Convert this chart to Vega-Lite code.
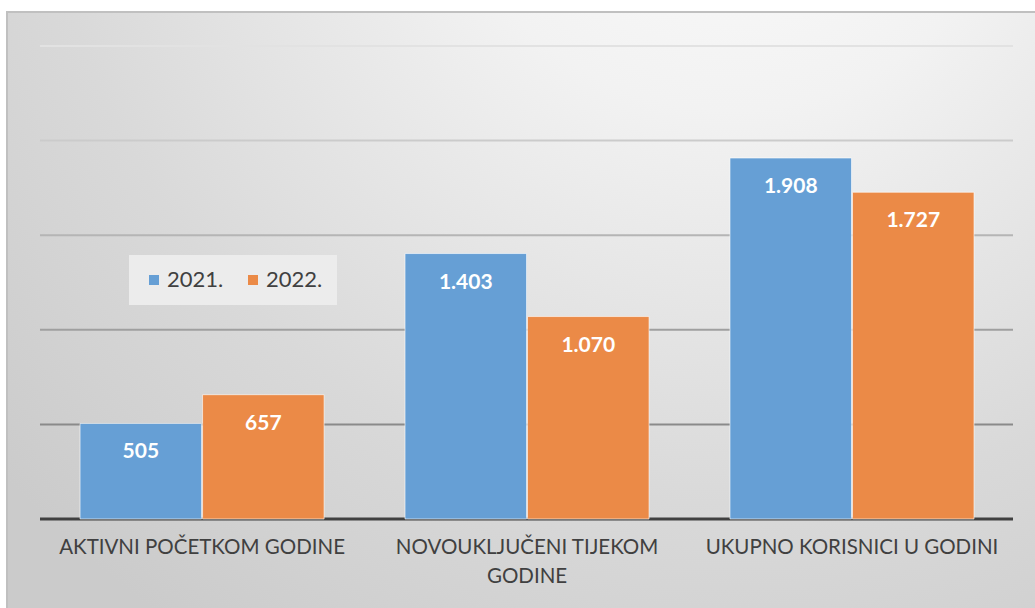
{
  "$schema": "https://vega.github.io/schema/vega-lite/v6.json",
  "width": 1035,
  "height": 600,
  "autosize": {"type": "none"},
  "padding": {"left": 7, "top": 12, "right": 0, "bottom": 0},
  "background": "#ffffff",
  "config": {
    "view": {"stroke": null},
    "locale": {"number": {"decimal": ",", "thousands": ".", "grouping": [3], "currency": ["", " €"]}}
  },
  "resolve": {"scale": {"x": "independent", "color": "independent"}, "axis": {"x": "independent"}},
  "layer": [
    {
      "data": {"values": [{"bg": 1}]},
      "mark": {
        "type": "rect",
        "stroke": "#c0c0c0",
        "strokeWidth": 2,
        "fill": {
          "gradient": "radial",
          "x1": 0.7, "y1": 0.02, "r1": 0,
          "x2": 0.7, "y2": 0.02, "r2": 0.95,
          "stops": [
            {"offset": 0, "color": "#fcfcfc"},
            {"offset": 0.3, "color": "#f2f2f2"},
            {"offset": 0.7, "color": "#d9d9d9"},
            {"offset": 1, "color": "#cbcbcb"}
          ]
        }
      },
      "encoding": {
        "y": {"datum": -491.5, "type": "quantitative", "scale": {"domain": [-491.5, 2679.7], "nice": false, "zero": false}, "axis": null},
        "y2": {"datum": 2679.7}
      }
    },
    {
      "data": {"values": [{"v": 500}, {"v": 1000}, {"v": 1500}, {"v": 2000}, {"v": 2500}]},
      "mark": {"type": "rule", "strokeWidth": 2},
      "encoding": {
        "y": {"field": "v", "type": "quantitative", "scale": {"domain": [-491.5, 2679.7], "nice": false, "zero": false}, "axis": null},
        "x": {"datum": 0, "type": "quantitative", "scale": {"domain": [0, 1], "range": [33, 1006]}, "axis": null},
        "x2": {"datum": 1},
        "color": {"field": "v", "type": "quantitative", "scale": {"domain": [500, 2500], "range": ["#8a8a8a", "#e2e2e2"]}, "legend": null}
      }
    },
    {
      "data": {"values": [{"v": 0}]},
      "mark": {"type": "rule", "strokeWidth": 3, "color": "#404040"},
      "encoding": {
        "y": {"field": "v", "type": "quantitative", "scale": {"domain": [-491.5, 2679.7], "nice": false, "zero": false}, "axis": null},
        "x": {"datum": 0, "type": "quantitative", "scale": {"domain": [0, 1], "range": [33, 1006]}, "axis": null},
        "x2": {"datum": 1}
      }
    },
    {
      "data": {"values": [
        {"category": "AKTIVNI POČETKOM GODINE", "year": "2021.", "value": 505},
        {"category": "AKTIVNI POČETKOM GODINE", "year": "2022.", "value": 657},
        {"category": "NOVOUKLJUČENI TIJEKOM GODINE", "year": "2021.", "value": 1403},
        {"category": "NOVOUKLJUČENI TIJEKOM GODINE", "year": "2022.", "value": 1070},
        {"category": "UKUPNO KORISNICI U GODINI", "year": "2021.", "value": 1908},
        {"category": "UKUPNO KORISNICI U GODINI", "year": "2022.", "value": 1727}
      ]},
      "encoding": {
        "x": {
          "field": "category", "type": "nominal", "sort": null,
          "scale": {"paddingInner": 0.249, "paddingOuter": 0.217, "align": 0.518},
          "axis": {
            "title": null, "orient": "bottom", "offset": -93, "domain": false, "ticks": false, "zindex": 2,
            "labelFont": "Lato", "labelFontSize": 20.5, "labelColor": "#404040",
            "labelPadding": 18, "labelAngle": 0, "labelLimit": 500, "labelLineHeight": 29,
            "labelExpr": "datum.label == 'NOVOUKLJUČENI TIJEKOM GODINE' ? ['NOVOUKLJUČENI TIJEKOM', 'GODINE'] : datum.label"
          }
        },
        "xOffset": {"field": "year", "type": "nominal", "scale": {"paddingInner": 0.008}},
        "y": {"field": "value", "type": "quantitative", "scale": {"domain": [-491.5, 2679.7], "nice": false, "zero": false}, "axis": null}
      },
      "layer": [
        {
          "mark": {"type": "bar", "stroke": "#ffffff", "strokeOpacity": 0.6, "strokeWidth": 1},
          "encoding": {
            "y2": {"datum": 0},
            "color": {
              "field": "year", "type": "nominal",
              "scale": {"domain": ["2021.", "2022."], "range": ["#669fd5", "#eb8a47"]},
              "legend": {
                "title": null, "orient": "none", "legendX": 122, "legendY": 243,
                "direction": "horizontal", "fillColor": "#ececec", "padding": 14,
                "symbolType": "square", "symbolSize": 100, "symbolStrokeWidth": 0,
                "labelFont": "Lato", "labelFontSize": 22, "labelColor": "#404040",
                "labelOffset": 2, "columnPadding": 18
              }
            }
          }
        },
        {
          "mark": {"type": "text", "baseline": "middle", "dy": 29, "color": "#ffffff", "font": "Lato", "fontWeight": "bold", "fontSize": 21},
          "encoding": {
            "text": {"field": "value", "type": "quantitative", "format": ","}
          }
        }
      ]
    }
  ]
}
